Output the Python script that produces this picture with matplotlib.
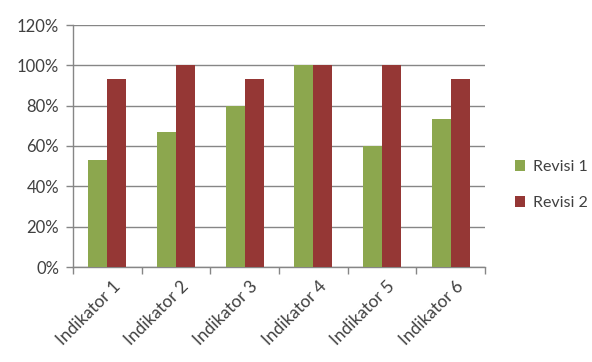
import matplotlib
matplotlib.use("Agg")
import matplotlib.pyplot as plt
import numpy as np
from matplotlib.ticker import FuncFormatter, MultipleLocator

categories = ["Indikator 1", "Indikator 2", "Indikator 3", "Indikator 4", "Indikator 5", "Indikator 6"]
revisi1 = [53.3, 66.7, 80.0, 100.0, 60.0, 73.3]
revisi2 = [93.3, 100.0, 93.3, 100.0, 100.0, 93.3]
series_names = ["Revisi 1", "Revisi 2"]

plt.rcParams['font.family'] = ['Lato', 'DejaVu Sans']

fig = plt.figure(figsize=(5.92, 3.62), dpi=100)
ax = fig.add_axes([73/592, 1-267/362, (485-73)/592, (267-25)/362])

x = np.arange(len(categories))
w = 0.275
c1 = '#8CA74E'
c2 = '#953735'
ax.bar(x - w/2, revisi1, w, color=c1, label=series_names[0], zorder=3)
ax.bar(x + w/2, revisi2, w, color=c2, label=series_names[1], zorder=3)

ax.set_xlim(-0.5, len(categories) - 0.5)
ax.set_ylim(0, 120)
ax.yaxis.set_major_locator(MultipleLocator(20))
ax.yaxis.set_major_formatter(FuncFormatter(lambda v, p: f"{int(round(v))}%"))
ax.grid(axis='y', color='#868686', linewidth=1.0, zorder=0)

ax.set_xticks(np.arange(len(categories) + 1) - 0.5, minor=False)
ax.set_xticklabels([])
ax.set_xticks(x + 0.07, minor=True)
ax.set_xticklabels(categories, minor=True, rotation=45, ha='right', rotation_mode='anchor',
                   fontsize=12.5, color='#404040')
ax.tick_params(axis='x', which='minor', length=0, pad=8)
ax.tick_params(axis='x', which='major', length=5, color='#868686', width=1)
ax.tick_params(axis='y', length=5, color='#868686', width=1, labelsize=12, labelcolor='#404040', pad=5)

for s in ['top', 'right']:
    ax.spines[s].set_visible(False)
for s in ['left', 'bottom']:
    ax.spines[s].set_color('#868686')
    ax.spines[s].set_linewidth(1)

leg = fig.legend(loc='center left', bbox_to_anchor=(515/592, 1-185/362), frameon=False,
                 borderpad=0, borderaxespad=0,
                 handlelength=0.65, handleheight=0.65, handletextpad=0.45, labelspacing=1.35,
                 fontsize=11.5)
for t in leg.get_texts():
    t.set_color('#404040')

fig.savefig("out.png", dpi=100)
